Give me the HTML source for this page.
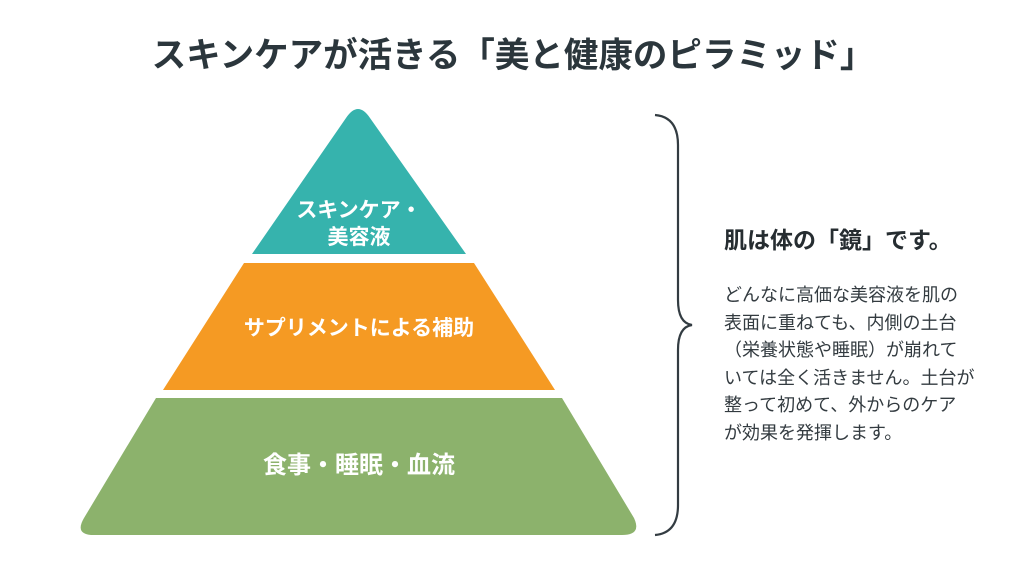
<!DOCTYPE html>
<html><head><meta charset="utf-8"><style>
html,body{margin:0;padding:0;background:#fff;}
body{width:1024px;height:576px;overflow:hidden;font-family:"Liberation Sans","Noto Sans CJK JP",sans-serif;}
</style></head><body>
<svg width="1024" height="576" viewBox="0 0 1024 576" xmlns="http://www.w3.org/2000/svg" font-family="Liberation Sans, Noto Sans CJK JP, sans-serif">
<text x="513" y="67" text-anchor="middle" font-size="34.5" font-weight="bold" fill="#2b363c">スキンケアが活きる「美と健康のピラミッド」</text>
<path d="M346,118 Q358,100 370,118 L466,254 L252,254 Z" fill="#36b3ad"/>
<path d="M244,263 L474,263 L555,390 L163,390 Z" fill="#f59a23"/>
<path d="M156,398 L562,398 L634,518 Q642,535 622,535 L94,535 Q74,535 84,518 Z" fill="#8cb26c"/>
<g fill="#fff" font-weight="bold" text-anchor="middle">
<text x="359" y="217" font-size="21">スキンケア・</text>
<text x="359" y="244" font-size="21">美容液</text>
<text x="359" y="335" font-size="21">サプリメントによる補助</text>
<text x="359" y="473" font-size="24">食事・睡眠・血流</text>
</g>
<path d="M655,115 Q678,117 678,145 L678,300 Q678,323 692,325 Q678,327 678,350 L678,505 Q678,533 655,535" fill="none" stroke="#333c42" stroke-width="2.2"/>
<text x="724" y="248" font-size="23" font-weight="bold" fill="#262d31">肌は体の「鏡」です。</text>
<g font-size="18" fill="#333b40">
<text x="724" y="301">どんなに高価な美容液を肌の</text>
<text x="724" y="329">表面に重ねても、内側の土台</text>
<text x="724" y="356">（栄養状態や睡眠）が崩れて</text>
<text x="724" y="384">いては全く活きません。土台が</text>
<text x="724" y="411">整って初めて、外からのケア</text>
<text x="724" y="439">が効果を発揮します。</text>
</g>
</svg>
</body></html>
